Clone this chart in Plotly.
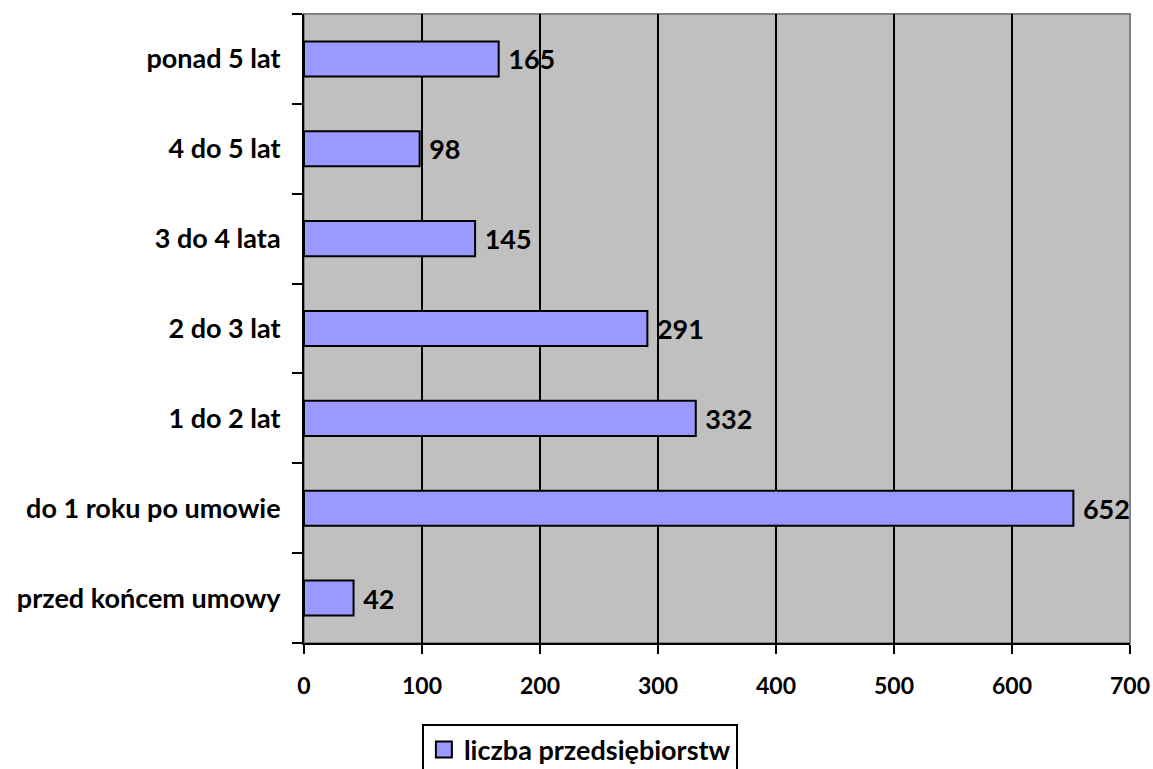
import plotly.graph_objects as go

categories = ["przed końcem umowy", "do 1 roku po umowie", "1 do 2 lat", "2 do 3 lat",
              "3 do 4 lata", "4 do 5 lat", "ponad 5 lat"]
values = [42, 652, 332, 291, 145, 98, 165]
series_name = "liczba przedsiębiorstw"
x_ticks = [0, 100, 200, 300, 400, 500, 600, 700]

FONT = "Lato, 'Open Sans', sans-serif"
FS = 27
BAR_COLOR = "#9999FF"

fig = go.Figure()
fig.add_trace(go.Bar(
    y=categories, x=values, orientation="h", name=series_name,
    marker=dict(color=BAR_COLOR, line=dict(color="black", width=2)),
    width=0.39,
    text=[f" {v}" for v in values], textposition="outside",
    textfont=dict(size=FS, color="black", family=FONT, weight="bold"),
    cliponaxis=False, showlegend=False,
))
# legend entry (square swatch like the reference)
fig.add_trace(go.Scatter(
    x=[None], y=[None], mode="markers", name=series_name,
    marker=dict(symbol="square", size=17, color=BAR_COLOR, line=dict(color="black", width=2)),
    showlegend=True,
))

fig.update_layout(
    width=1153, height=769,
    margin=dict(l=304, r=23, t=14, b=126, autoexpand=False),
    paper_bgcolor="white", plot_bgcolor="#C0C0C0",
    font=dict(family=FONT, size=FS, color="black", weight="bold"),
    showlegend=True,
    legend=dict(orientation="h", x=0.334, xanchor="center", y=-0.128, yanchor="top",
                bordercolor="black", borderwidth=2, bgcolor="white",
                font=dict(size=FS, family=FONT, weight="bold"), itemsizing="trace",
                itemwidth=30, traceorder="normal"),
    bargap=0.61,
    uniformtext=dict(minsize=FS, mode="show"),
    shapes=[dict(type="rect", xref="paper", yref="paper", x0=0, x1=1, y0=0, y1=1,
                 line=dict(color="#808080", width=2), layer="below")],
)
fig.update_xaxes(range=[0, 700], tickvals=x_ticks,
                 showgrid=True, gridcolor="black", gridwidth=2,
                 showline=True, linecolor="black", linewidth=2,
                 ticks="outside", ticklen=9, tickwidth=2, tickcolor="black",
                 zeroline=False, automargin=False, ticklabeloverflow="allow",
                 ticklabelstandoff=12,
                 tickfont=dict(size=23, weight="bold"))
fig.update_yaxes(categoryorder="array", categoryarray=categories,
                 tickson="boundaries", showgrid=False,
                 showline=True, linecolor="black", linewidth=2,
                 ticks="outside", ticklen=10, tickwidth=2, tickcolor="black",
                 ticklabelstandoff=16, automargin=False,
                 tickfont=dict(size=FS, weight="bold"))

fig.write_html("out.html", config={"displayModeBar": False},
               post_script="document.body.style.margin='0';document.body.style.overflow='hidden';")
